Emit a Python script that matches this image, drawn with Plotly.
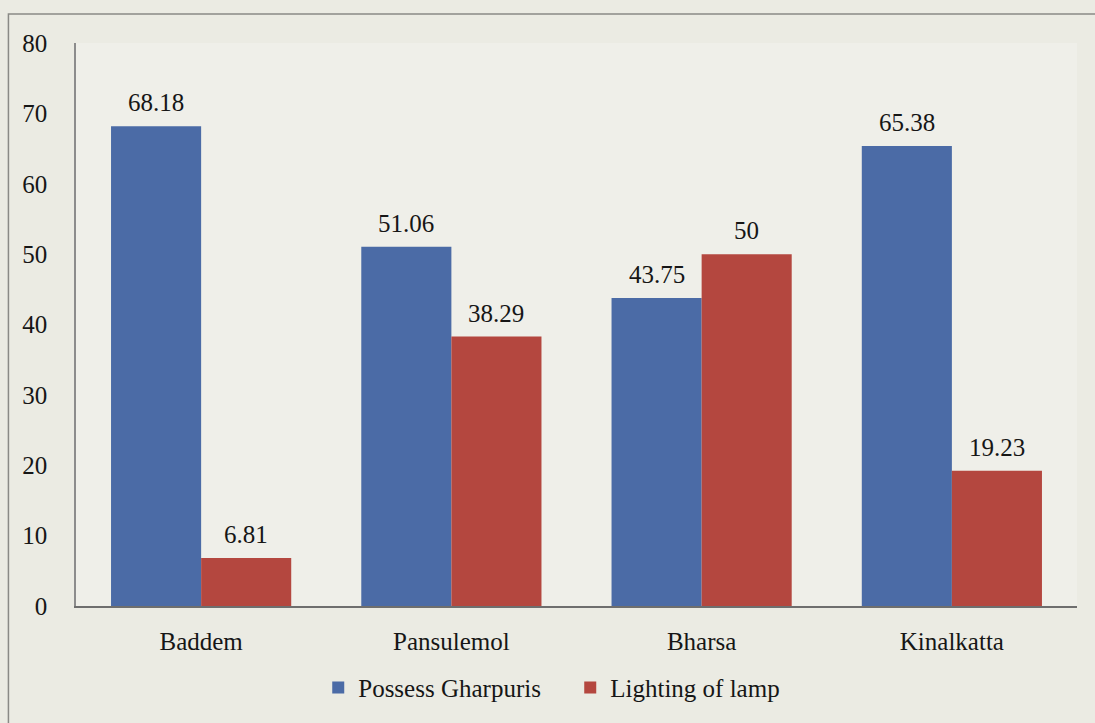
import plotly.graph_objects as go

villages = ["Baddem", "Pansulemol", "Bharsa", "Kinalkatta"]
possess_gharpuris = [68.18, 51.06, 43.75, 65.38]
lighting_of_lamp = [6.81, 38.29, 50, 19.23]
y_ticks = [0, 10, 20, 30, 40, 50, 60, 70, 80]

FONT = "Liberation Serif, Times New Roman, serif"
FSIZE = 25
INK = "#161616"
BLUE = "#4b6ba6"
RED = "#b4473f"

fig = go.Figure()
fig.add_trace(go.Bar(
    name="Possess Gharpuris", x=villages, y=possess_gharpuris,
    marker=dict(color=BLUE, line=dict(width=0)),
))
fig.add_trace(go.Bar(
    name="Lighting of lamp", x=villages, y=lighting_of_lamp,
    marker=dict(color=RED, line=dict(width=0)),
))

# value labels above each bar, offset to the bar's slot within its group
for series, shift in ((possess_gharpuris, -45), (lighting_of_lamp, 45)):
    for v, val in zip(villages, series):
        fig.add_annotation(x=v, y=val, text=f"{val:g}", showarrow=False,
                           xshift=shift, yshift=8, yanchor="bottom",
                           font=dict(family=FONT, size=FSIZE, color=INK))

# outer frame around the chart (left and top edges visible)
fig.add_shape(type="rect", xref="paper", yref="paper",
              x0=-0.0675, x1=1.05, y0=-0.4, y1=1.0515,
              line=dict(color="#8a8a86", width=1.5), layer="below")

fig.update_layout(
    width=1095, height=723,
    margin=dict(l=76, r=18, t=43, b=117),
    paper_bgcolor="#ebebe3",
    plot_bgcolor="#efefe9",
    barmode="group",
    bargap=0.28,
    bargroupgap=0,
    font=dict(family=FONT, size=FSIZE, color=INK),
    showlegend=True,
    legend=dict(orientation="h", x=0.242, xanchor="left", y=-0.145, yanchor="middle",
                font=dict(family=FONT, size=FSIZE, color=INK),
                itemwidth=30, entrywidth=207, entrywidthmode="pixels",
                tracegroupgap=0, bgcolor="rgba(0,0,0,0)"),
    xaxis=dict(showline=True, linecolor="#6e6e6e", linewidth=1.5, ticks="",
               showgrid=False, ticklabelstandoff=12,
               tickfont=dict(family=FONT, size=FSIZE, color=INK)),
    yaxis=dict(range=[0, 80], tickvals=y_ticks, showline=True, linecolor="#8c8c8c",
               linewidth=1.5, ticks="", showgrid=False, zeroline=False,
               ticklabelstandoff=22,
               tickfont=dict(family=FONT, size=FSIZE, color=INK)),
)

fig.write_html("out.html")
